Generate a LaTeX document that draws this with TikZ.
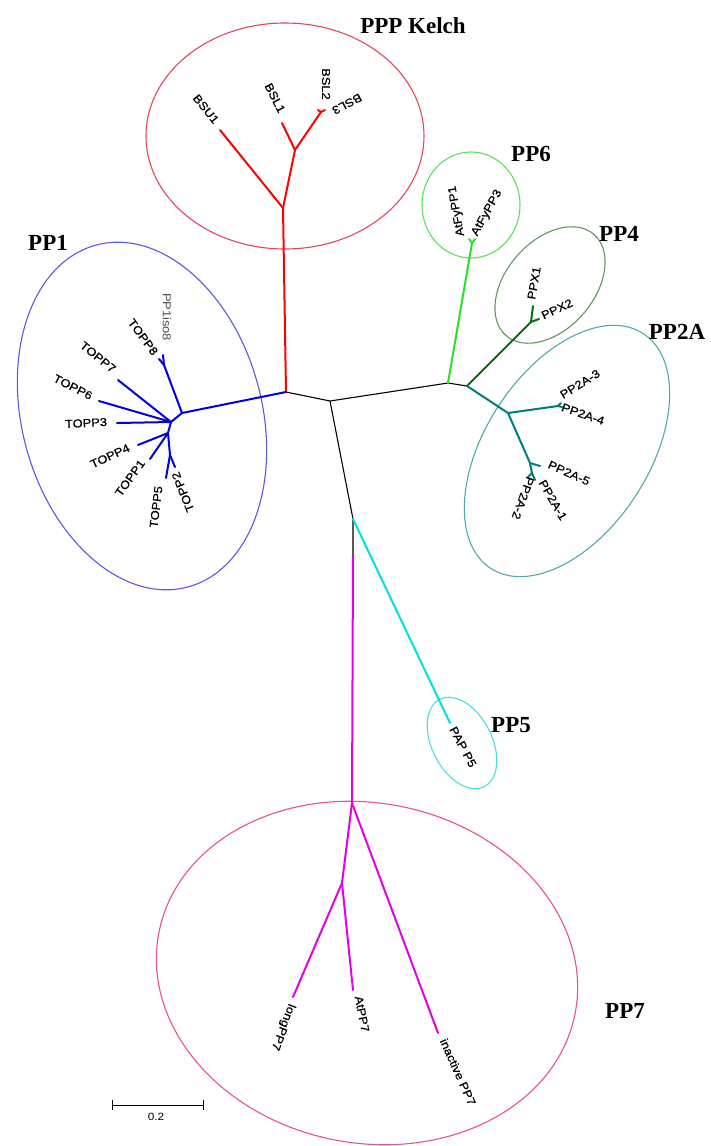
\documentclass[tikz,border=0pt]{standalone}
\usepackage{fontspec}
\newfontfamily\labfont[FakeStretch=1.12,FakeBold=0.6]{Liberation Sans}
\newfontfamily\thinfont[FakeStretch=1.12]{Liberation Sans}
\newfontfamily\grpfont{Liberation Serif}
\definecolor{kred}{RGB}{255,0,0}
\definecolor{kredE}{RGB}{228,70,90}
\definecolor{pblue}{RGB}{0,0,225}
\definecolor{pblueE}{RGB}{90,90,225}
\definecolor{lgreen}{RGB}{40,225,40}
\definecolor{lgreenE}{RGB}{90,225,90}
\definecolor{dgreen}{RGB}{0,115,20}
\definecolor{dgreenE}{RGB}{100,150,100}
\definecolor{teal2}{RGB}{0,125,125}
\definecolor{teal2E}{RGB}{80,170,170}
\definecolor{cyan2}{RGB}{0,225,225}
\definecolor{cyan2E}{RGB}{70,225,225}
\definecolor{mag}{RGB}{230,0,230}
\definecolor{magE}{RGB}{232,80,150}
\begin{document}
\begin{tikzpicture}[x=1pt,y=-1pt,
  tree/.style={line width=2pt, line cap=round, line join=round},
  core/.style={line width=1.1pt, black, line join=round},
  grp/.style={line width=1.1pt},
  lab/.style={font=\labfont\fontsize{11.5}{12}\selectfont, inner sep=0pt},
  big/.style={font=\grpfont\bfseries\fontsize{23}{26}\selectfont, inner sep=0pt},
]
\useasboundingbox (0,0) rectangle (710,1146);
\fill[white] (0,0) rectangle (710,1146);

% ---- group ellipses
\draw[grp, kredE] (285,136) ellipse [x radius=139, y radius=113];
\draw[grp, pblueE, rotate around={15:(142,416)}] (142,416) ellipse [x radius=120, y radius=177];
\draw[grp, lgreenE] (471,205) ellipse [x radius=49, y radius=53];
\draw[grp, dgreenE, rotate around={49:(550,285)}] (550,285) ellipse [x radius=67, y radius=44];
\draw[grp, teal2E, rotate around={57:(567,451)}] (567,451) ellipse [x radius=140, y radius=82];
\draw[grp, cyan2E, rotate around={27:(462,743)}] (462,743) ellipse [x radius=30, y radius=49];
\draw[grp, magE, rotate around={-11:(367,973)}] (367,973) ellipse [x radius=212, y radius=170];

% ---- coordinates
\coordinate (J1) at (286,392);
\coordinate (C0) at (330,401);
\coordinate (R1) at (448,383);
\coordinate (R2) at (467,386);
\coordinate (P5J) at (353,519);
\coordinate (M0) at (353,556);
% Kelch
\coordinate (K1) at (283,208);
\coordinate (K2) at (295,150);
\coordinate (K3) at (321,112);
\coordinate (bsu1) at (220,130);
\coordinate (bsl1) at (282,123);
\coordinate (bsl2) at (318,110);
\coordinate (bsl3) at (325,110);
% PP1
\coordinate (A1) at (182,413);
\coordinate (A2) at (164,365);
\coordinate (iso8) at (163,355);
\coordinate (topp8) at (159,359);
\coordinate (B1) at (171,422);
\coordinate (topp7) at (118,380);
\coordinate (topp6) at (99,401);
\coordinate (topp3) at (117,423);
\coordinate (C1) at (168,433);
\coordinate (topp4) at (138,445);
\coordinate (topp1) at (150,459);
\coordinate (E1) at (170,455);
\coordinate (topp5) at (166,478);
\coordinate (topp2) at (175,467);
% PP6
\coordinate (G1) at (472,243);
\coordinate (afy1) at (469,239);
\coordinate (afy3) at (475,239);
% PP4
\coordinate (D1) at (531,322);
\coordinate (ppx1) at (533,306);
\coordinate (ppx2) at (539,319);
% PP2A
\coordinate (T1) at (508,413);
\coordinate (T1b) at (558,406);
\coordinate (a3) at (561,403);
\coordinate (a4) at (562,407);
\coordinate (T2) at (530,463);
\coordinate (a5) at (540,466);
\coordinate (T3) at (532,473);
\coordinate (a1) at (535,480);
\coordinate (a2) at (528,477);
% PP5
\coordinate (pap5) at (450,723);
% PP7
\coordinate (M1) at (352,803);
\coordinate (M3) at (342,883);
\coordinate (long7) at (293,997);
\coordinate (at7) at (353,990);
\coordinate (inact7) at (438,1033);

% ---- backbone
\draw[core] (J1) -- (C0) -- (R1) -- (R2);
\draw[core] (C0) -- (P5J) -- (M0);

% ---- Kelch
\draw[tree, kred] (J1) -- (K1) -- (bsu1);
\draw[tree, kred] (K1) -- (K2) -- (bsl1);
\draw[tree, kred] (K2) -- (K3);
\draw[tree, kred] (K3) -- (bsl2);
\draw[tree, kred] (K3) -- (bsl3);

% ---- PP1
\draw[tree, pblue] (J1) -- (A1) -- (A2) -- (iso8);
\draw[tree, pblue] (A2) -- (topp8);
\draw[tree, pblue] (A1) -- (B1) -- (topp7);
\draw[tree, pblue] (B1) -- (topp6);
\draw[tree, pblue] (B1) -- (topp3);
\draw[tree, pblue] (B1) -- (C1) -- (topp4);
\draw[tree, pblue] (C1) -- (topp1);
\draw[tree, pblue] (C1) -- (E1) -- (topp2);
\draw[tree, pblue] (E1) -- (topp5);

% ---- PP6
\draw[tree, lgreen] (R1) -- (G1) -- (afy1);
\draw[tree, lgreen] (G1) -- (afy3);

% ---- PP4
\draw[tree, dgreen] (R2) -- (D1) -- (ppx1);
\draw[tree, dgreen] (D1) -- (ppx2);

% ---- PP2A
\draw[tree, teal2] (R2) -- (T1) -- (T1b) -- (a3);
\draw[tree, teal2] (T1b) -- (a4);
\draw[tree, teal2] (T1) -- (T2) -- (a5);
\draw[tree, teal2] (T2) -- (T3) -- (a1);
\draw[tree, teal2] (T3) -- (a2);

% ---- PP5
\draw[tree, cyan2] (P5J) -- (pap5);

% ---- PP7
\draw[tree, mag] (M0) -- (M1) -- (M3) -- (long7);
\draw[tree, mag] (M3) -- (at7);
\draw[tree, mag] (M1) -- (inact7);

% ---- leaf labels
\node[rotate=-51, lab] (lbsu1) at (206,109) {BSU1};
\node[rotate=-63, lab] (lbsl1) at (275,98) {BSL1};
\node[rotate=-90, lab] (lbsl2) at (326,84) {BSL2};
\node[rotate=208, lab] (lbsl3) at (347,104) {BSL3};
\node[rotate=-90, lab, font=\thinfont\fontsize{11.5}{12}\selectfont, text=black!70] (liso8) at (167,317) {PP1iso8};
\node[rotate=-53.5, lab] (ltopp8) at (143,337) {TOPP8};
\node[rotate=-39, lab] (ltopp7) at (98,357) {TOPP7};
\node[rotate=-27, lab] (ltopp6) at (73,387) {TOPP6};
\node[rotate=3, lab] (ltopp3) at (86,423) {TOPP3};
\node[rotate=25, lab] (ltopp4) at (110,456) {TOPP4};
\node[rotate=54, lab] (ltopp1) at (130,478) {TOPP1};
\node[rotate=83, lab] (ltopp5) at (156,507) {TOPP5};
\node[rotate=112, lab] (ltopp2) at (183,492) {TOPP2};
\node[rotate=100, lab] (lafy1) at (457,211) {AtFyPP1};
\node[rotate=61, lab] (lafy3) at (487,213) {AtFyPP3};
\node[rotate=80, lab] (lppx1) at (534,283) {PPX1};
\node[rotate=25, lab] (lppx2) at (557,309) {PPX2};
\node[rotate=32, lab] (la3) at (580,384) {PP2A-3};
\node[rotate=-19, lab] (la4) at (583,414) {PP2A-4};
\node[rotate=-24, lab] (la5) at (569,473) {PP2A-5};
\node[rotate=-60, lab] (la1) at (553,500) {PP2A-1};
\node[rotate=-110, lab] (la2) at (523,498) {PP2A-2};
\node[rotate=-62, lab] (lpap5) at (463,747) {PAP P5};
\node[rotate=-111, lab] (llong7) at (283,1027) {longPP7};
\node[rotate=-79, lab] (lat7) at (362,1014) {AtPP7};
\node[rotate=-66, lab] (linact7) at (458,1072) {inactive PP7};

% ---- group labels
\node[big] (gkelch) at (413,26) {PPP Kelch};
\node[big] (gpp1) at (48,243) {PP1};
\node[big] (gpp6) at (531,154) {PP6};
\node[big] (gpp4) at (619,234) {PP4};
\node[big] (gpp2a) at (677,332) {PP2A};
\node[big] (gpp5) at (511,725) {PP5};
\node[big] (gpp7) at (625,1011) {PP7};

% ---- scale bar
\coordinate (sb1) at (112,1105);
\coordinate (sb2) at (203,1105);
\draw[line width=1pt] (sb1) -- (sb2);
\draw[line width=1pt] ([yshift=5pt]sb1) -- ([yshift=-5pt]sb1);
\draw[line width=1pt] ([yshift=5pt]sb2) -- ([yshift=-5pt]sb2);
\node[font=\thinfont\fontsize{10.5}{12}\selectfont, inner sep=0pt] (sblab) at (156,1117) {0.2};
\end{tikzpicture}
\end{document}
